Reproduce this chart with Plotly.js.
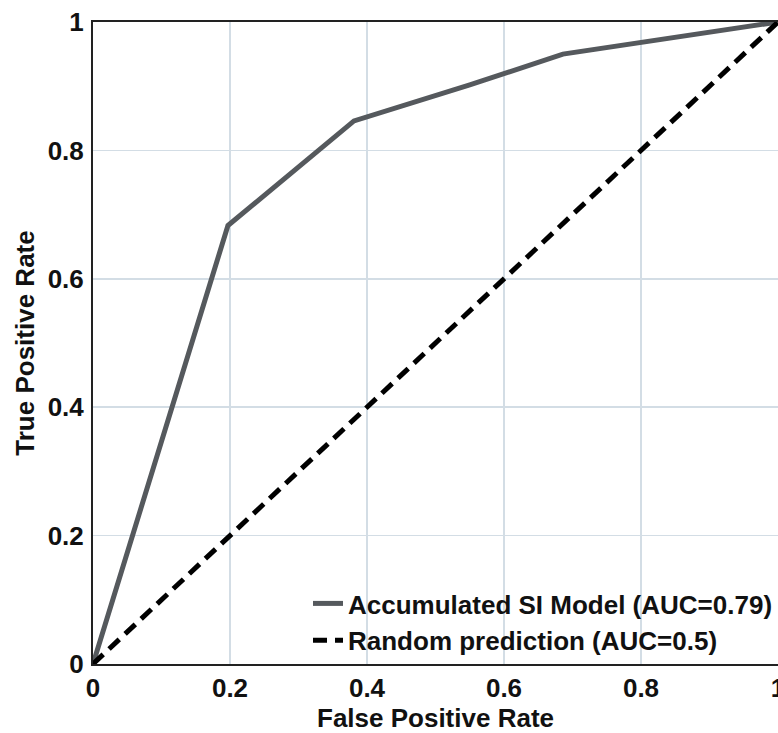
<!DOCTYPE html>
<html>
<head>
<meta charset="utf-8">
<script src="https://cdn.plot.ly/plotly-3.0.1.min.js"></script>
<style>html,body{margin:0;padding:0;background:#fff;}#chart{width:778px;height:733px;}</style>
</head>
<body>
<div id="chart"></div>
<script>
const modelName = 'Accumulated SI Model (AUC=0.79)';
const modelFPR = [0, 0.197, 0.381, 0.55, 0.686, 1];
const modelTPR = [0, 0.683, 0.846, 0.902, 0.950, 1];
const randomName = 'Random prediction (AUC=0.5)';
const randomFPR = [0, 1];
const randomTPR = [0, 1];
const tickVals = [0, 0.2, 0.4, 0.6, 0.8, 1];
const tickText = ['0', '0.2', '0.4', '0.6', '0.8', '1'];

const F = 'Liberation Sans, Arial, Helvetica, sans-serif';
const font = (s) => ({family: F, size: s, color: '#111', weight: 'bold'});

const data = [
  {x: modelFPR, y: modelTPR, mode: 'lines', name: modelName, cliponaxis: false,
   line: {color: '#55595d', width: 5}},
  {x: randomFPR, y: randomTPR, mode: 'lines', name: randomName, cliponaxis: false,
   line: {color: '#000', width: 5, dash: '14px,8px'}}
];

const axisCommon = {
  range: [0, 1], tickvals: tickVals, ticktext: tickText, ticks: '',
  showgrid: true, gridcolor: '#d3dde5', gridwidth: 1.5,
  showline: true, linecolor: '#222', linewidth: 2, mirror: true,
  zeroline: false, tickfont: font(26), fixedrange: true,
  ticklabeloverflow: 'allow'
};

const layout = {
  width: 778, height: 733,
  margin: {l: 93, r: 0, t: 22, b: 69},
  paper_bgcolor: '#fff', plot_bgcolor: '#fff',
  font: font(26),
  showlegend: true,
  legend: {x: 1, xanchor: 'right', y: 0.0, yanchor: 'bottom', bgcolor: 'rgba(0,0,0,0)',
           font: font(26), tracegroupgap: 0},
  xaxis: Object.assign({}, axisCommon, {title: {text: 'False Positive Rate', font: font(26), standoff: 4}}),
  yaxis: Object.assign({}, axisCommon, {title: {text: 'True Positive Rate', font: font(26), standoff: 6}, ticklabelstandoff: 2})
};

Plotly.newPlot('chart', data, layout, {displayModeBar: false, staticPlot: true});
</script>
</body>
</html>
